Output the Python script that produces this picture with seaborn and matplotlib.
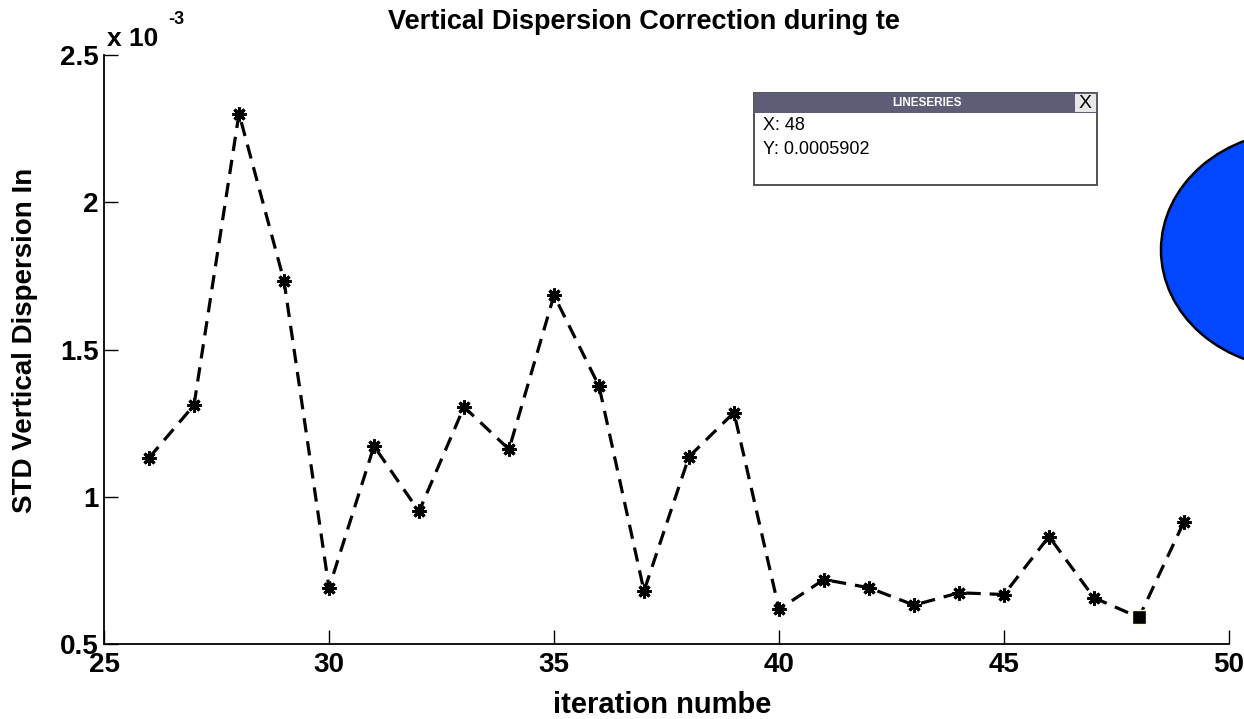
import matplotlib
matplotlib.use("Agg")
import matplotlib.pyplot as plt
import matplotlib.patches as mpatches
import seaborn as sns
import pandas as pd

# ---- data ----
iterations = [26, 27, 28, 29, 30, 31, 32, 33, 34, 35, 36, 37,
              38, 39, 40, 41, 42, 43, 44, 45, 46, 47, 48, 49]
std_disp_e3 = [1.132, 1.311, 2.301, 1.733, 0.690, 1.172, 0.950, 1.305,
               1.161, 1.684, 1.376, 0.680, 1.136, 1.286, 0.618, 0.719,
               0.691, 0.632, 0.674, 0.668, 0.865, 0.657, 0.5902, 0.915]
tip_x = 48
tip_y = 0.0005902
x_ticks = [25, 30, 35, 40, 45, 50]
y_ticks = [0.5, 1.0, 1.5, 2.0, 2.5]
y_tick_labels = ["0.5", "1", "1.5", "2", "2.5"]
title_text = "Vertical Dispersion Correction during te"
xlabel_text = "iteration numbe"
ylabel_text = "STD Vertical Dispersion In"

df = pd.DataFrame({"iteration": iterations, "std": std_disp_e3})
tip_df = pd.DataFrame({"iteration": [tip_x], "std": [tip_y * 1e3]})

sns.set_theme(style="ticks")
plt.rcParams["font.family"] = ["Liberation Sans", "DejaVu Sans"]
plt.rcParams["text.color"] = "black"
plt.rcParams["axes.labelcolor"] = "black"
plt.rcParams["xtick.color"] = "black"
plt.rcParams["ytick.color"] = "black"

W, H = 1244, 719
fig = plt.figure(figsize=(W / 100, H / 100), dpi=100)
fig.patch.set_facecolor("white")
ax = fig.add_axes([104 / W, 1 - 644 / H, (1229 - 104) / W, (644 - 55) / H])
ax.set_facecolor("white")

sns.lineplot(data=df, x="iteration", y="std", ax=ax, color="black",
             linewidth=2.3, marker=(8, 2, 0), markersize=10,
             markeredgecolor="black", markeredgewidth=2.2)
ax.lines[0].set_dashes((4.5, 2.8))
sns.scatterplot(data=tip_df, x="iteration", y="std", ax=ax, marker="s",
                s=110, color="black", edgecolor="#fffbe0", linewidth=1,
                zorder=5)

ax.set_xlim(25, 50)
ax.set_ylim(0.5, 2.5)
ax.set_xticks(x_ticks)
ax.set_xticklabels([str(t) for t in x_ticks], fontweight="bold", fontsize=20)
ax.set_yticks(y_ticks)
ax.set_yticklabels(y_tick_labels, fontweight="bold", fontsize=20)
ax.tick_params(direction="in", length=10, width=1, colors="black", pad=4)
ax.tick_params(axis="x", pad=6)
for s in ["top", "right"]:
    ax.spines[s].set_visible(False)
for s in ["left", "bottom"]:
    ax.spines[s].set_linewidth(1.3)
    ax.spines[s].set_color("black")

ax.set_xlabel(xlabel_text, fontweight="bold", fontsize=21)
ax.xaxis.set_label_coords((662 - 104) / 1125, -(705 - 644) / 589)
ax.xaxis.label.set_va("center")
ax.set_ylabel(ylabel_text, fontweight="bold", fontsize=20)
ax.yaxis.set_label_coords((25 - 104) / 1125, (644 - 340) / 589)
ax.yaxis.label.set_va("center")
fig.text(644 / W, 1 - 22 / H, title_text, ha="center", va="center",
         fontsize=19.5, fontweight="bold")

# exponent
fig.text(107 / W, 1 - 46 / H, "x 10", ha="left", va="baseline",
         fontsize=19, fontweight="bold")
fig.text(168 / W, 1 - 24 / H, "-3", ha="left", va="baseline",
         fontsize=13, fontweight="bold")


def fbox(x0, y0, x1, y1, **kw):
    r = mpatches.Rectangle((x0 / W, 1 - y1 / H), (x1 - x0) / W, (y1 - y0) / H,
                           transform=fig.transFigure, **kw)
    fig.add_artist(r)
    return r


# data tip box
fbox(754, 93, 1097, 185, facecolor="white", edgecolor="#444444", linewidth=1.3,
     zorder=10)
fbox(754, 93, 1097, 113, facecolor="#5d5d78", edgecolor="none", zorder=11)
fbox(1075, 94, 1096, 112, facecolor="#e6e6e6", edgecolor="none", zorder=12)
fig.text(927 / W, 1 - 103 / H, "LINESERIES", ha="center", va="center",
         color="white", fontsize=8.5, fontweight="bold", zorder=13)
fig.text(1085 / W, 1 - 103 / H, "X", ha="center", va="center",
         color="black", fontsize=14, zorder=13)
fig.text(763 / W, 1 - 126 / H, f"X: {tip_x}", ha="left", va="center",
         fontsize=13, zorder=13)
fig.text(763 / W, 1 - 150 / H, f"Y: {tip_y:.7f}", ha="left", va="center",
         fontsize=13, zorder=13)

# blue ellipse partially off-canvas
ell = mpatches.Ellipse((1300 / W, 1 - 250 / H), 278 / W, 238 / H,
                       transform=fig.transFigure, facecolor="#0047ff",
                       edgecolor="black", linewidth=1.8, zorder=10)
fig.add_artist(ell)

fig.savefig("out.png", dpi=100, facecolor="white")
